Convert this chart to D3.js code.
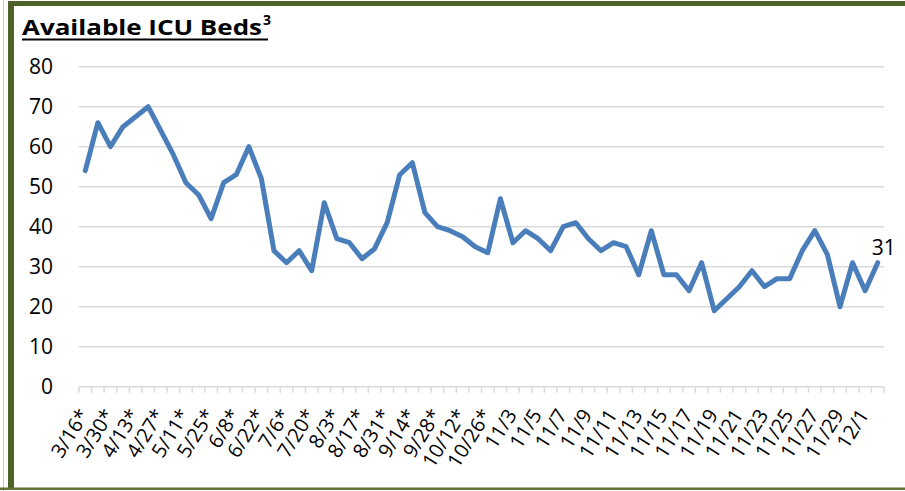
<!DOCTYPE html>
<html>
<head>
<meta charset="utf-8">
<script src="https://cdn.jsdelivr.net/npm/d3@7"></script>
<style>
  body { margin: 0; background: #fff; }
  svg { display: block; }
</style>
</head>
<body>
<div id="chart"></div>
<script>
// Chart data

const dates = [
  "3/16*", "3/23*", "3/30*", "4/6*", "4/13*", "4/20*", "4/27*", "5/4*",
  "5/11*", "5/18*", "5/25*", "6/1*", "6/8*", "6/15*", "6/22*", "6/29*",
  "7/6*", "7/13*", "7/20*", "7/27*", "8/3*", "8/10*", "8/17*", "8/24*",
  "8/31*", "9/7*", "9/14*", "9/21*", "9/28*", "10/5*", "10/12*", "10/19*",
  "10/26*", "11/2", "11/3", "11/4", "11/5", "11/6", "11/7", "11/8",
  "11/9", "11/10", "11/11", "11/12", "11/13", "11/14", "11/15", "11/16",
  "11/17", "11/18", "11/19", "11/20", "11/21", "11/22", "11/23", "11/24",
  "11/25", "11/26", "11/27", "11/28", "11/29", "11/30", "12/1", "12/2"
];

const beds = [
  54, 66, 60, 65, 67.5, 70, 64, 58,
  51, 48, 42, 51, 53, 60, 52, 34,
  31, 34, 29, 46, 37, 36, 32, 34.5,
  41, 53, 56, 43.5, 40, 39, 37.5, 35,
  33.5, 47, 36, 39, 37, 34, 40, 41,
  37, 34, 36, 35, 28, 39, 28, 28,
  24, 31, 19, 22, 25, 29, 25, 27,
  27, 34, 39, 33, 20, 31, 24, 31
];

const yTicks = [0, 10, 20, 30, 40, 50, 60, 70, 80];

const data = dates.map((d, i) => ({ date: d, value: beds[i] }));

// Dimensions

const W = 905, H = 491;
const plot = { left: 79, right: 884, top: 66.7, bottom: 386.7 };
const font = "'Open Sans', sans-serif";

const svg = d3.select("#chart")
  .append("svg")
    .attr("width", W)
    .attr("height", H);

// Frame around the chart

svg.append("line")
  .attr("x1", 3.5).attr("x2", 3.5)
  .attr("y1", 0).attr("y2", H)
  .attr("stroke", "#c8c8c8")
  .attr("stroke-width", 1);

svg.append("rect")
  .attr("x", 8).attr("y", 1)
  .attr("width", W - 8).attr("height", 5)
  .attr("fill", "#4f6228");

svg.append("rect")
  .attr("x", 8).attr("y", 1)
  .attr("width", 6).attr("height", 487)
  .attr("fill", "#4f6228");

svg.append("rect")
  .attr("x", 0).attr("y", 487.5)
  .attr("width", W).attr("height", 2.5)
  .attr("fill", "#5e7432");

// Title

const title = svg.append("text")
  .attr("x", 22)
  .attr("y", 35)
  .attr("font-family", font)
  .attr("font-weight", "bold")
  .attr("font-size", 22)
  .attr("fill", "#000");
title.append("tspan")
  .attr("textLength", 240)
  .attr("lengthAdjust", "spacingAndGlyphs")
  .text("Available ICU Beds");
title.append("tspan")
  .attr("font-size", 14)
  .attr("dx", 1)
  .attr("dy", -10)
  .text("3");

svg.append("rect")
  .attr("x", 22).attr("y", 38.5)
  .attr("width", 246).attr("height", 2)
  .attr("fill", "#000");

// Scales

const x = d3.scaleBand()
  .domain(dates)
  .range([plot.left, plot.right])
  .padding(0);

const y = d3.scaleLinear()
  .domain([0, 80])
  .range([plot.bottom, plot.top]);

const cx = d => x(d) + x.bandwidth() / 2;

// Horizontal gridlines

svg.selectAll(".grid")
  .data(yTicks.slice(1))
  .join("line")
    .attr("class", "grid")
    .attr("x1", plot.left)
    .attr("x2", plot.right)
    .attr("y1", d => y(d))
    .attr("y2", d => y(d))
    .attr("stroke", "#d9d9d9")
    .attr("stroke-width", 1.5);

// y axis labels

svg.selectAll(".ylab")
  .data(yTicks)
  .join("text")
    .attr("class", "ylab")
    .attr("x", 53)
    .attr("y", d => y(d))
    .attr("dy", "0.36em")
    .attr("text-anchor", "end")
    .attr("font-family", font)
    .attr("font-size", 21)
    .attr("fill", "#000")
    .text(d => d);

// x axis line and ticks between categories

svg.append("line")
  .attr("x1", plot.left)
  .attr("x2", plot.right)
  .attr("y1", y(0))
  .attr("y2", y(0))
  .attr("stroke", "#d9d9d9")
  .attr("stroke-width", 1.5);

svg.selectAll(".xtick")
  .data(dates.map(d => x(d)).concat([x.range()[1]]))
  .join("line")
    .attr("class", "xtick")
    .attr("x1", d => d)
    .attr("x2", d => d)
    .attr("y1", y(0))
    .attr("y2", y(0) + 6)
    .attr("stroke", "#d9d9d9")
    .attr("stroke-width", 1.5);

// x axis labels, every other category

svg.selectAll(".xlab")
  .data(dates.filter((d, i) => i % 2 === 0))
  .join("text")
    .attr("class", "xlab")
    .attr("transform", d => `translate(${cx(d) + 4.5},${y(0) + 28}) rotate(-58)`)
    .attr("text-anchor", "end")
    .attr("font-family", font)
    .attr("font-size", 20)
    .attr("fill", "#000")
    .text(d => d);

// Line

const line = d3.line()
  .x(d => cx(d.date))
  .y(d => y(d.value));

svg.append("path")
  .datum(data)
  .attr("fill", "none")
  .attr("stroke", "#4a7ebb")
  .attr("stroke-width", 5)
  .attr("stroke-linejoin", "round")
  .attr("stroke-linecap", "round")
  .attr("d", line);

// Label on the last point

const last = data[data.length - 1];
svg.append("text")
  .attr("x", cx(last.date) + 6)
  .attr("y", y(last.value) - 8)
  .attr("text-anchor", "middle")
  .attr("font-family", font)
  .attr("font-size", 21)
  .attr("fill", "#000")
  .text(last.value);
</script>
</body>
</html>
